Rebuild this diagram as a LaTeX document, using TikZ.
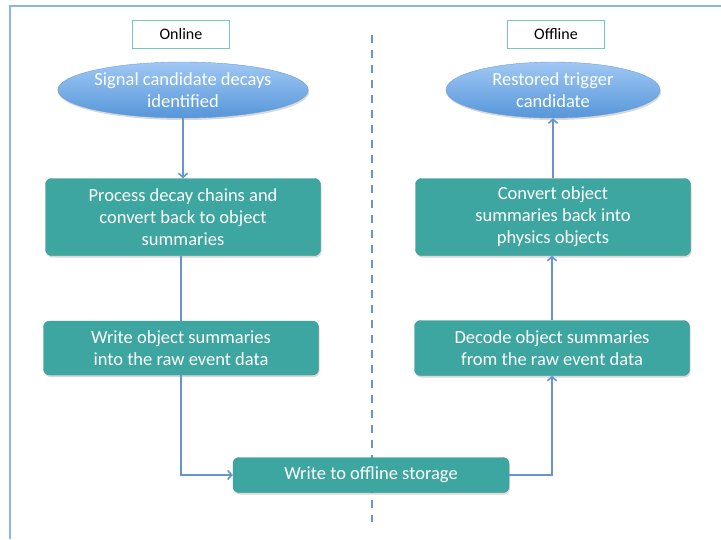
\documentclass[tikz,border=0pt]{standalone}
\usepackage{fontspec}
\setmainfont{Carlito}
\usetikzlibrary{shapes.geometric,shadows,arrows.meta}
\definecolor{teal1}{RGB}{62,166,160}
\definecolor{linec}{RGB}{104,148,204}
\definecolor{ellTop}{RGB}{160,200,244}
\definecolor{ellBot}{RGB}{86,150,218}
\definecolor{ellLine}{RGB}{110,160,215}
\definecolor{labLine}{RGB}{120,200,194}
\definecolor{frameC}{RGB}{140,180,228}
\tikzset{
  procbox/.style={draw=teal1!90!black, fill=teal1, rounded corners=6pt, text=white,
    font=\fontsize{18.5}{22}\selectfont, align=center, inner sep=0pt,
    drop shadow={shadow xshift=1pt, shadow yshift=-2pt, opacity=0.3}},
  startell/.style={ellipse, draw=ellLine, top color=ellTop, bottom color=ellBot, text=white,
    font=\fontsize{18.5}{22}\selectfont, align=center, inner sep=0pt,
    minimum width=214pt, minimum height=56pt,
    drop shadow={shadow xshift=1pt, shadow yshift=-2pt, opacity=0.3}},
  lab/.style={draw=labLine, fill=white, font=\fontsize{16}{18}\selectfont,
    minimum width=97pt, minimum height=28pt, inner sep=0pt},
  conn/.style={draw=linec, line width=1.6pt, -{Straight Barb[length=4pt,width=9pt]}},
  connp/.style={draw=linec, line width=1.6pt}
}
\begin{document}
\begin{tikzpicture}[x=1pt,y=-1pt]
\useasboundingbox (0,0) rectangle (721,539);
\fill[white] (0,0) rectangle (721,539);
% frame
\draw[frameC, line width=1.2pt] (10,539) -- (10,6) -- (721,6);
% divider
\draw[linec, line width=1.6pt, dash pattern=on 8pt off 7pt] (372,35) -- (372,522);
% labels
\node[lab] (online) at (181,34) {Online};
\node[lab] (offline) at (556,34) {Offline};
% left column
\node[startell] (sig) at (183,90) {Signal candidate decays\\identified};
\node[procbox, minimum width=275pt, minimum height=77pt] (proc) at (183,217) {Process decay chains and\\convert back to object\\summaries};
\node[procbox, minimum width=275pt, minimum height=54pt] (wobj) at (181,348) {Write object summaries\\into the raw event data};
% bottom
\node[procbox, minimum width=276pt, minimum height=35pt] (store) at (371,475) {Write to offline storage};
% right column
\node[procbox, minimum width=275pt, minimum height=55pt] (dec) at (552,348) {Decode object summaries\\from the raw event data};
\node[procbox, minimum width=275pt, minimum height=77pt] (conv) at (553,217) {Convert object\\summaries back into\\physics objects};
\node[startell] (rest) at (553,90) {Restored trigger\\candidate};
% connectors
\draw[conn] (sig.south) -- (proc.north -| sig.south);
\draw[connp] (proc.south -| wobj.north) -- (wobj.north);
\draw[conn] (wobj.south) |- (store.west);
\draw[conn] (store.east) -| (dec.south);
\draw[conn] (dec.north) -- (dec.north |- conv.south);
\draw[conn] (conv.north) -- (rest.south);
\end{tikzpicture}
\end{document}
